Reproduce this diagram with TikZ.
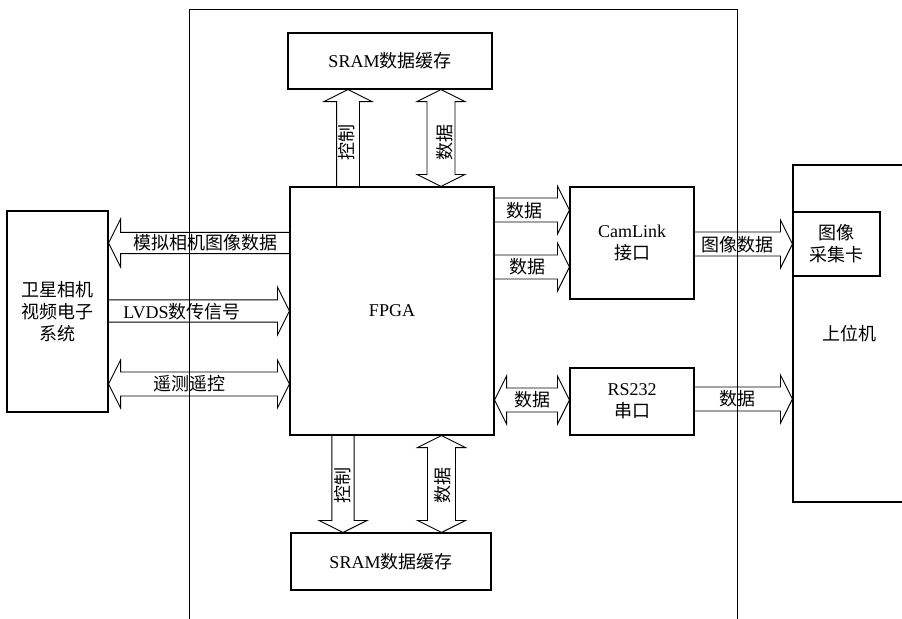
\documentclass[tikz,border=0pt]{standalone}
\usepackage{fontspec}
\setmainfont{Liberation Serif}
\newfontfamily\cjk{Noto Sans CJK SC}
\usetikzlibrary{calc}
\newcommand\zh[1]{{\cjk #1}}
% hollow block arrow, open at the start, tip at #3
\newcommand\onearrow[3][9pt]{%
  \draw[blockarrow] let \p1=(#2), \p2=(#3), \n2={atan2(\y2-\y1,\x2-\x1)} in
    ($(\p1)+(\n2+90:#1)$) -- ($(\p2)+(\n2+180:9pt)+(\n2+90:#1)$)
    -- ($(\p2)+(\n2+180:9pt)+(\n2+90:18pt)$) -- (\p2)
    -- ($(\p2)+(\n2+180:9pt)+(\n2-90:18pt)$) -- ($(\p2)+(\n2+180:9pt)+(\n2-90:#1)$)
    -- ($(\p1)+(\n2-90:#1)$);}
% hollow block arrow with a head at both ends
\newcommand\twoarrow[3][9pt]{%
  \draw[blockarrow] let \p1=(#2), \p2=(#3), \n2={atan2(\y2-\y1,\x2-\x1)} in
    (\p1) -- ($(\p1)+(\n2:9pt)+(\n2+90:18pt)$) -- ($(\p1)+(\n2:9pt)+(\n2+90:#1)$)
    -- ($(\p2)+(\n2+180:9pt)+(\n2+90:#1)$) -- ($(\p2)+(\n2+180:9pt)+(\n2+90:18pt)$)
    -- (\p2) -- ($(\p2)+(\n2+180:9pt)+(\n2-90:18pt)$) -- ($(\p2)+(\n2+180:9pt)+(\n2-90:#1)$)
    -- ($(\p1)+(\n2:9pt)+(\n2-90:#1)$) -- ($(\p1)+(\n2:9pt)+(\n2-90:18pt)$) -- cycle;}
\begin{document}
\begin{tikzpicture}[x=0.75pt,y=-0.75pt,
  font=\fontsize{13.5}{16.5}\selectfont,
  unit/.style={draw,line width=0.8pt,inner sep=0pt,align=center},
  blockarrow/.style={line width=0.7pt,line join=miter}]
  \useasboundingbox (0,0) rectangle (902,618);
  % board outline
  \draw[line width=0.7pt] (189,630) -- (189,9) -- (737,9) -- (737,630);
  % units
  \node[unit,minimum width=153pt,minimum height=42pt] (sramT) at (390,61) {SRAM\zh{数据缓存}};
  \node[unit,minimum width=153pt,minimum height=186pt] (fpga) at (392,311) {FPGA};
  \node[unit,minimum width=150pt,minimum height=42.75pt] (sramB) at (391,561.5) {SRAM\zh{数据缓存}};
  \node[unit,minimum width=93pt,minimum height=84pt] (cam) at (632,243) {CamLink\\\zh{接口}};
  \node[unit,minimum width=93pt,minimum height=50.25pt] (rs) at (632,401.5) {RS232\\\zh{串口}};
  \node[unit,minimum width=84.75pt,minimum height=252.75pt] (host) at (849.5,333.5) {\zh{上位机}};
  \node[unit,minimum width=65.25pt,minimum height=48pt] (card) at (836.5,244) {\zh{图像}\\\zh{采集卡}};
  \node[unit,minimum width=75.75pt,minimum height=150.75pt] (sys) at (57.5,311.5) {\zh{卫星相机}\\\zh{视频电子}\\\zh{系统}};
  % SRAM links
  \onearrow[8.6pt]{348,0 |- fpga.north}{348,0 |- sramT.south}
  \twoarrow[10.5pt]{441,0 |- fpga.north}{441,0 |- sramT.south}
  \onearrow[8.4pt]{343,0 |- fpga.south}{343,0 |- sramB.north}
  \twoarrow[10.5pt]{441.5,0 |- fpga.south}{441.5,0 |- sramB.north}
  \node[rotate=90] (ctlT) at (347,142) {\zh{控制}};
  \node[rotate=90] (datT) at (445,142) {\zh{数据}};
  \node[rotate=90] (ctlB) at (343,485) {\zh{控制}};
  \node[rotate=90] (datB) at (443,485) {\zh{数据}};
  % CamLink and RS232 links
  \onearrow{fpga.east |- 0,210}{cam.west |- 0,210}
  \onearrow{fpga.east |- 0,267}{cam.west |- 0,267}
  \onearrow{cam.east |- 0,244}{card.west |- 0,244}
  \twoarrow{fpga.east |- 0,400}{rs.west |- 0,400}
  \onearrow{rs.east |- 0,399}{host.west |- 0,399}
  \node (datC1) at (524,211) {\zh{数据}};
  \node (datC2) at (527,267) {\zh{数据}};
  \node (img) at (737,245) {\zh{图像数据}};
  \node (datR) at (532,400) {\zh{数据}};
  \node (datH) at (737,399) {\zh{数据}};
  % camera system links
  \onearrow[8pt]{fpga.west |- 0,243}{sys.east |- 0,243}
  \onearrow[8.4pt]{sys.east |- 0,311}{fpga.west |- 0,311}
  \twoarrow{sys.east |- 0,384}{fpga.west |- 0,384}
  \node (ana) at (205,243) {\zh{模拟相机图像数据}};
  \node (lvds) at (182,312) {LVDS\zh{数传信号}};
  \node (tmtc) at (189,384) {\zh{遥测遥控}};
\end{tikzpicture}
\end{document}
